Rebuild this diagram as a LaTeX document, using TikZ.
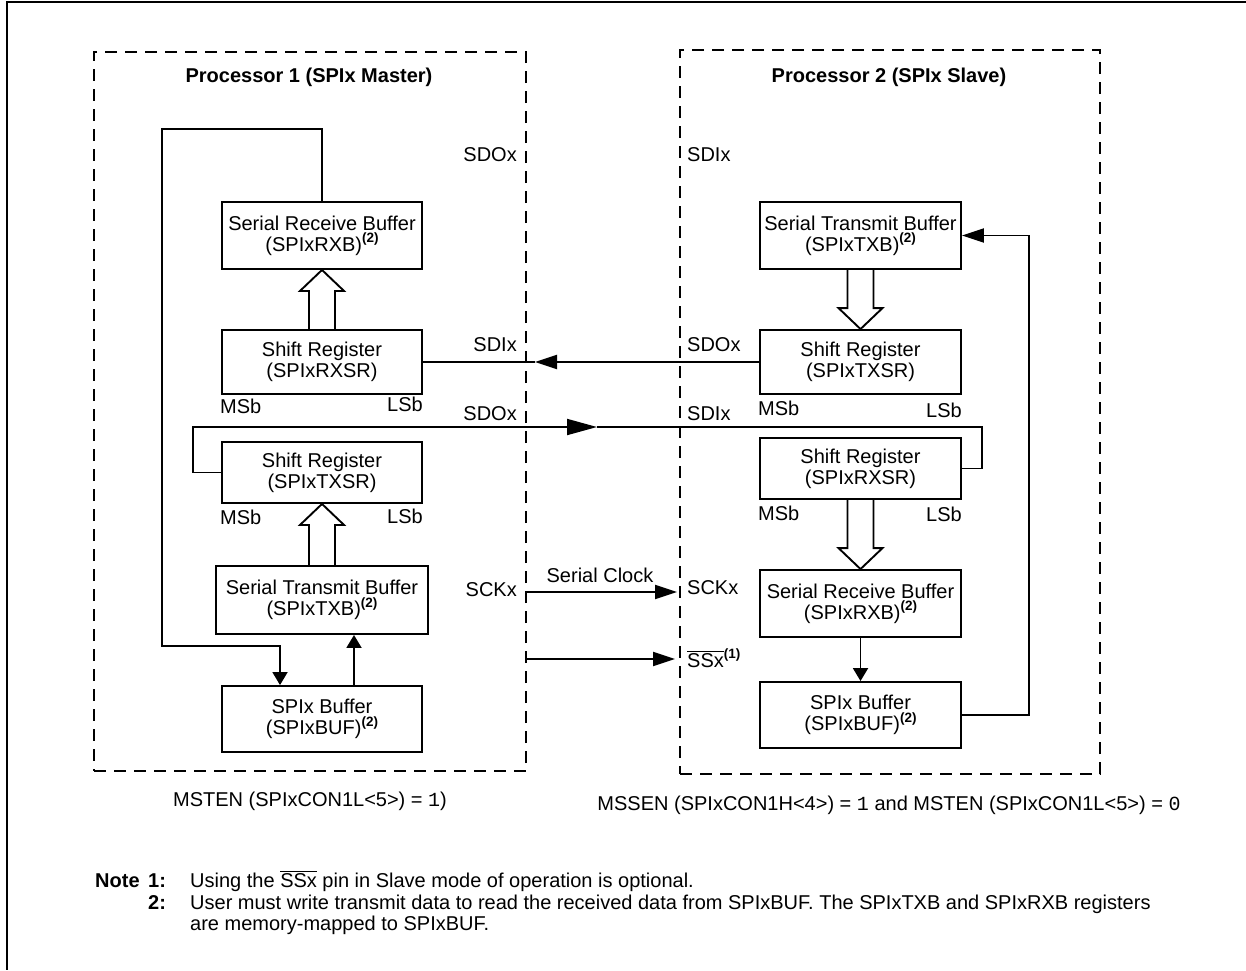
\documentclass[tikz,border=0pt]{standalone}
\usepackage{fontspec}
\setmainfont{Liberation Sans}
\newfontfamily\monof{Liberation Mono}
\usetikzlibrary{arrows.meta,calc}
\newcommand\bigfs{\fontsize{20}{21.3}\selectfont}
\newcommand\supn[1]{\raisebox{0.42em}{\fontsize{13.5}{13.5}\selectfont\bfseries(#1)}}
\newcommand\ovl[1]{$\overline{\hbox{#1}}$}
\newcommand\hollowarrow[2]{%
  \path coordinate (has) at (#1) coordinate (hat) at (#2);
  \path coordinate (hab) at ($(hat)!21pt!(has)$);
  \draw[line width=1.9pt, line join=miter]
    ($(has)!13pt!90:(hat)$) -- ($(hab)!13pt!90:(hat)$) -- ($(hab)!22pt!90:(hat)$)
    -- (hat) -- ($(hab)!22pt!-90:(hat)$) -- ($(hab)!13pt!-90:(hat)$) -- ($(has)!13pt!-90:(hat)$);
}
\tikzset{
  box/.style={draw, line width=1.9pt, align=center, inner sep=0pt, font=\bigfs},
  dbox/.style={draw, line width=1.9pt, dash pattern=on 12pt off 8pt, inner sep=0pt},
  wire/.style={line width=1.9pt},
  harrow/.style={wire, -{Triangle[length=22pt,width=14pt]}},
  varrow/.style={wire, -{Triangle[length=13pt,width=15pt]}},
  marrow/.style={wire, -{Triangle[length=30pt,width=16pt]}},
  lbl/.style={font=\bigfs, inner sep=0pt},
}
\begin{document}
\begin{tikzpicture}[x=1pt,y=-1pt]
\useasboundingbox (0,0) rectangle (1246,970);
% outer frame
\draw[line width=2pt] (1246,2) -- (7,2) -- (7,970);

% processor frames
\node[dbox, minimum width=432pt, minimum height=719pt] (p1) at (310,411.5) {};
\node[dbox, minimum width=420pt, minimum height=724pt] (p2) at (890,412) {};
\node[lbl, font=\bigfs\bfseries] (t1) at (309,77) {Processor 1 (SPIx Master)};
\node[lbl, font=\bigfs\bfseries] (t2) at (889,77) {Processor 2 (SPIx Slave)};

% master boxes
\node[box, minimum width=200pt, minimum height=67pt] (rxb1) at (322,235.5) {Serial Receive Buffer\\(SPIxRXB)\supn{2}};
\node[box, minimum width=200pt, minimum height=64pt] (rxsr1) at (322,362) {Shift Register\\(SPIxRXSR)};
\node[box, minimum width=200pt, minimum height=61pt] (txsr1) at (322,472.5) {Shift Register\\(SPIxTXSR)};
\node[box, minimum width=212pt, minimum height=68pt] (txb1) at (322,600) {Serial Transmit Buffer\\(SPIxTXB)\supn{2}};
\node[box, minimum width=200pt, minimum height=66pt] (buf1) at (322,719) {SPIx Buffer\\(SPIxBUF)\supn{2}};

% slave boxes
\node[box, minimum width=201pt, minimum height=67pt] (txb2) at (860.5,235.5) {Serial Transmit Buffer\\(SPIxTXB)\supn{2}};
\node[box, minimum width=201pt, minimum height=64pt] (txsr2) at (860.5,362) {Shift Register\\(SPIxTXSR)};
\node[box, minimum width=201pt, minimum height=61pt] (rxsr2) at (860.5,468.5) {Shift Register\\(SPIxRXSR)};
\node[box, minimum width=201pt, minimum height=67pt] (rxb2) at (860.5,603.5) {Serial Receive Buffer\\(SPIxRXB)\supn{2}};
\node[box, minimum width=201pt, minimum height=66pt] (buf2) at (860.5,715) {SPIx Buffer\\(SPIxBUF)\supn{2}};

% MSb / LSb
\node[lbl, anchor=west] (m1a) at (220,406) {MSb};
\node[lbl, anchor=east] (l1a) at (423,404) {LSb};
\node[lbl, anchor=west] (m1b) at (220,517) {MSb};
\node[lbl, anchor=east] (l1b) at (423,516) {LSb};
\node[lbl, anchor=west] (m2a) at (758,408) {MSb};
\node[lbl, anchor=east] (l2a) at (962,410) {LSb};
\node[lbl, anchor=west] (m2b) at (758,513) {MSb};
\node[lbl, anchor=east] (l2b) at (962,514) {LSb};

% pin labels
\node[lbl, anchor=east] (pa) at (517,155) {SDOx};
\node[lbl, anchor=west] (pb) at (687,155) {SDIx};
\node[lbl, anchor=east] (pc) at (517,345) {SDIx};
\node[lbl, anchor=west] (pd) at (687,345) {SDOx};
\node[lbl, anchor=east] (pe) at (517,414) {SDOx};
\node[lbl, anchor=west] (pf) at (687,414) {SDIx};
\node[lbl, anchor=east] (pg) at (517,590) {SCKx};
\node[lbl, anchor=west] (ph) at (687,588) {SCKx};
\node[lbl, anchor=west] (pi) at (687,658) {\ovl{SSx}\supn{1}};
\node[lbl] (sc) at (600,575) {Serial Clock};

% hollow transfer arrows
\hollowarrow{rxsr1.north}{rxb1.south}
\hollowarrow{txb1.north}{txsr1.south}
\hollowarrow{txb2.south}{txsr2.north}
\hollowarrow{rxsr2.south}{rxb2.north}

% master connectors
\coordinate (c1) at (162,129);
\coordinate (c2) at (280,646);
\draw[varrow] (rxb1.north) |- (c1) |- (c2) -- (c2 |- buf1.north);
\draw[varrow] ($(buf1.north)+(32,0)$) -- ($(txb1.south)+(32,0)$);

% SDO master -> SDI slave
\coordinate (c3) at (193,427);
\coordinate (c5) at (597,427);
\coordinate (c4) at (982,427);
\draw[marrow] (txsr1.west) -| (c3) -- (c5);
\draw[wire] (c5) -- (c4) |- (rxsr2.east);

% SDO slave -> SDI master
\coordinate (c6) at (535,362);
\draw[harrow] (txsr2.west) -- (c6);
\draw[wire] (c6) -- (rxsr1.east);

% clock and slave select
\coordinate (sck2) at (677,592);
\coordinate (ss2) at (675,659);
\draw[harrow] (p1.east |- sck2) -- (sck2);
\draw[harrow] (p1.east |- ss2) -- (ss2);

% slave connectors
\coordinate (c7) at (1029,235.5);
\draw[harrow] (buf2.east) -| (c7) -- (txb2.east);
\draw[varrow] (rxb2.south) -- (buf2.north);

% captions
\node[lbl] (cap1) at (310,801) {MSTEN (SPIxCON1L<5>) = {\monof 1})};
\node[lbl] (cap2) at (889,805) {MSSEN (SPIxCON1H<4>) = {\monof 1} and MSTEN (SPIxCON1L<5>) = {\monof 0}};

% notes
\node[lbl, anchor=base west] (n0) at (95,887) {\bfseries Note};
\node[lbl, anchor=base west] (n1) at (148,887) {\bfseries 1:};
\node[lbl, anchor=base west] (n1t) at (190,887) {Using the \ovl{SSx} pin in Slave mode of operation is optional.};
\node[lbl, anchor=base west] (n2) at (148,909) {\bfseries 2:};
\node[lbl, anchor=base west] (n2t) at (190,909) {User must write transmit data to read the received data from SPIxBUF. The SPIxTXB and SPIxRXB registers};
\node[lbl, anchor=base west] (n3t) at (190,930) {are memory-mapped to SPIxBUF.};
\end{tikzpicture}
\end{document}
